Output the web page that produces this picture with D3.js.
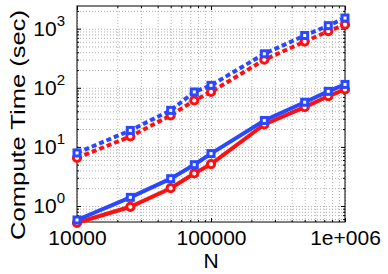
<!DOCTYPE html>
<html>
<head>
<meta charset="utf-8">
<script src="https://cdn.jsdelivr.net/npm/d3@7"></script>
<style>
  html, body { margin: 0; padding: 0; background: #fff; }
  svg text { font-family: 'Liberation Sans', Arial, Helvetica, sans-serif; fill: #000; }
</style>
</head>
<body>
<div id="chart"></div>
<script>
// problem sizes (x axis)
const sizes = [10000, 25000, 50000, 75000, 100000, 250000, 500000, 750000, 1000000];

// compute times (sec)
const redSolid  = [0.52, 0.97, 2.0, 3.55, 5.1, 24, 47, 72, 94];
const blueSolid = [0.58, 1.40, 2.9, 5.0, 7.7, 28, 57, 87, 114];
const redDotted  = [6.5, 15, 34, 61, 85, 298, 605, 905, 1170];
const blueDotted = [7.9, 19, 41.5, 85, 110, 376, 767, 1125, 1515];

const xMajor = [1e4, 1e5, 1e6];
const xMajorLabels = ['10000', '100000', '1e+006'];
const yMajor = [1, 10, 100, 1000];
const yExponents = ['0', '1', '2', '3'];

const width = 388, height = 274;
const margin = { top: 6, right: 43, bottom: 52, left: 77 };
const w = width - margin.left - margin.right;
const h = height - margin.top - margin.bottom;

const red = '#ff1010';
const blue = '#2a48ff';

const svg = d3.select('#chart').append('svg')
  .attr('width', width)
  .attr('height', height);

const g = svg.append('g')
  .attr('transform', `translate(${margin.left},${margin.top})`);

const x = d3.scaleLog().domain([1e4, 1e6]).range([0, w]);
const y = d3.scaleLog().domain([0.536, 2421]).range([h, 0]);

// minor tick positions
const xMinor = [];
[1e4, 1e5].forEach(d => { for (let k = 2; k <= 9; k++) xMinor.push(d * k); });
const yMinor = [];
[0.1, 1, 10, 100, 1000].forEach(d => {
  for (let k = 2; k <= 9; k++) {
    const v = d * k;
    if (v >= y.domain()[0] && v <= y.domain()[1]) yMinor.push(v);
  }
});

// dotted grid
const gridStyle = sel => {
  sel.select('.domain').remove();
  sel.selectAll('line')
    .attr('stroke', '#b0b0b0')
    .attr('stroke-width', 1)
    .attr('stroke-dasharray', '1,2');
};
g.append('g')
  .attr('transform', `translate(0,${h})`)
  .call(d3.axisBottom(x).tickValues(xMajor.concat(xMinor)).tickSize(-h).tickFormat(''))
  .call(gridStyle);
g.append('g')
  .call(d3.axisLeft(y).tickValues(yMajor.concat(yMinor)).tickSize(-w).tickFormat(''))
  .call(gridStyle);

// inward tick marks on all four sides
const tickStyle = sel => {
  sel.select('.domain').remove();
  sel.selectAll('line').attr('stroke', '#000');
};
const majLen = 4, minLen = 2;
g.append('g').attr('transform', `translate(0,${h})`)
  .call(d3.axisBottom(x).tickValues(xMinor).tickSize(-minLen).tickFormat('')).call(tickStyle);
g.append('g')
  .call(d3.axisTop(x).tickValues(xMinor).tickSize(-minLen).tickFormat('')).call(tickStyle);
g.append('g')
  .call(d3.axisTop(x).tickValues(xMajor).tickSize(-majLen).tickFormat('')).call(tickStyle);
g.append('g')
  .call(d3.axisLeft(y).tickValues(yMinor).tickSize(-minLen).tickFormat('')).call(tickStyle);
g.append('g').attr('transform', `translate(${w},0)`)
  .call(d3.axisRight(y).tickValues(yMinor).tickSize(-minLen).tickFormat('')).call(tickStyle);
g.append('g').attr('transform', `translate(${w},0)`)
  .call(d3.axisRight(y).tickValues(yMajor).tickSize(-majLen).tickFormat('')).call(tickStyle);

// bottom axis with labels
const xAxis = g.append('g')
  .attr('transform', `translate(0,${h})`)
  .call(d3.axisBottom(x).tickValues(xMajor).tickSize(-majLen).tickPadding(8)
    .tickFormat((d, i) => xMajorLabels[i]))
  .call(tickStyle);
xAxis.selectAll('text').attr('font-size', 21).attr('font-family', null);

// left axis with power-of-ten labels
const yAxis = g.append('g')
  .call(d3.axisLeft(y).tickValues(yMajor).tickSize(-majLen).tickPadding(12).tickFormat(''))
  .call(tickStyle);
yAxis.selectAll('.tick text').each(function (d, i) {
  const t = d3.select(this).attr('font-size', 21).attr('font-family', null);
  t.append('tspan').text('10');
  t.append('tspan').attr('dy', -10).attr('font-size', 15).text(yExponents[i]);
});

// frame
g.append('rect')
  .attr('width', w).attr('height', h)
  .attr('fill', 'none')
  .attr('stroke', '#000')
  .attr('stroke-width', 1);

// series
const line = d3.line().x((d, i) => x(sizes[i])).y(d => y(d));

function drawSeries(values, color, dashed, marker) {
  g.append('path')
    .datum(values)
    .attr('fill', 'none')
    .attr('stroke', color)
    .attr('stroke-width', 4)
    .attr('stroke-dasharray', dashed ? '5,3' : null)
    .attr('d', line);
  const m = g.append('g');
  if (marker === 'circle') {
    m.selectAll('circle').data(values).enter().append('circle')
      .attr('cx', (d, i) => x(sizes[i]))
      .attr('cy', d => y(d))
      .attr('r', 3.6)
      .attr('fill', '#fff')
      .attr('stroke', color)
      .attr('stroke-width', 3);
  } else {
    m.selectAll('rect').data(values).enter().append('rect')
      .attr('x', (d, i) => x(sizes[i]) - 3)
      .attr('y', d => y(d) - 3)
      .attr('width', 6)
      .attr('height', 6)
      .attr('fill', '#fff')
      .attr('stroke', color)
      .attr('stroke-width', 3);
  }
}

drawSeries(redDotted, red, true, 'circle');
drawSeries(redSolid, red, false, 'circle');
drawSeries(blueDotted, blue, true, 'square');
drawSeries(blueSolid, blue, false, 'square');

// axis titles
svg.append('text')
  .attr('x', margin.left + x(1e5))
  .attr('y', 268)
  .attr('text-anchor', 'middle')
  .attr('font-size', 21)
  .text('N');

svg.append('text')
  .attr('transform', 'translate(25,125) rotate(-90)')
  .attr('text-anchor', 'middle')
  .attr('font-size', 21)
  .attr('textLength', 230)
  .attr('lengthAdjust', 'spacingAndGlyphs')
  .text('Compute Time (sec)');
</script>
</body>
</html>
